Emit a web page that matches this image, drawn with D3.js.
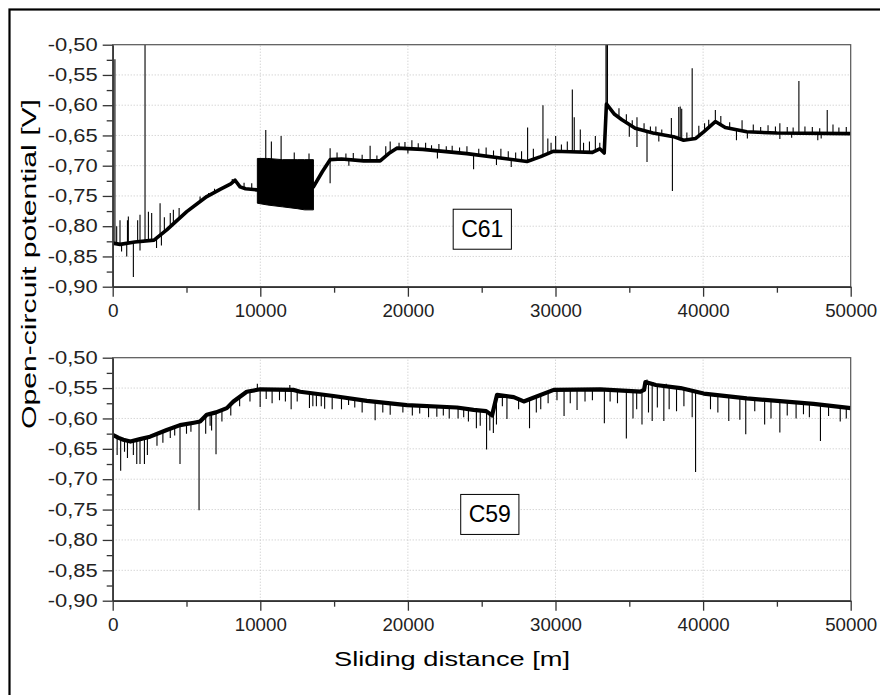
<!DOCTYPE html>
<html><head><meta charset="utf-8">
<script src="https://cdn.jsdelivr.net/npm/d3@7"></script>
<style>
html,body{margin:0;padding:0;background:#fff;}
svg{display:block;font-family:"Liberation Sans",Arial,sans-serif;}
</style></head>
<body><svg id="chart" width="880" height="695"></svg>
<script>
// ---------- data ----------
const xTicks = [0, 10000, 20000, 30000, 40000, 50000];
const xTickLabels = ["0", "10000", "20000", "30000", "40000", "50000"];
const xMinorTicks = [5000, 15000, 25000, 35000, 45000];
const yTicks = [-0.90, -0.85, -0.80, -0.75, -0.70, -0.65, -0.60, -0.55, -0.50];
const yTickLabels = ["-0,90", "-0,85", "-0,80", "-0,75", "-0,70", "-0,65", "-0,60", "-0,55", "-0,50"];
const yMinorTicks = [-0.875, -0.825, -0.775, -0.725, -0.675, -0.625, -0.575, -0.525];
const gridX = [10000, 20000, 30000, 40000];
const gridY = [-0.85, -0.80, -0.75, -0.70, -0.65, -0.60, -0.55];

// C61 (upper panel): smoothed base trace
const c61X = [0, 500, 1500, 2800, 3660, 5017, 6373, 7275, 8000, 8290, 8630, 9000, 9763, 9800,
  13600, 14200, 14730, 15500, 17000, 18120, 18700, 19250, 21000, 24000, 28070, 29000, 29880, 31000,
  32500, 33000, 33300, 33450, 34000, 34500, 35400, 36600, 38000, 38680, 39500, 40040, 40830, 41500,
  42960, 45000, 50000];
const c61V = [-0.828, -0.830, -0.826, -0.823, -0.806, -0.776, -0.751, -0.739, -0.730, -0.724, -0.735, -0.738, -0.740, -0.740,
  -0.735, -0.710, -0.690, -0.689, -0.692, -0.692, -0.680, -0.671, -0.673, -0.680, -0.693, -0.685, -0.676, -0.677,
  -0.678, -0.672, -0.679, -0.598, -0.615, -0.624, -0.638, -0.646, -0.652, -0.658, -0.655, -0.644, -0.627, -0.637,
  -0.644, -0.646, -0.647];
// C61 dense oscillation block
const c61BlockX = [9800, 10500, 11500, 12500, 13000, 13600];
const c61BlockHi = [-0.688, -0.688, -0.690, -0.690, -0.690, -0.690];
const c61BlockLo = [-0.762, -0.765, -0.768, -0.771, -0.773, -0.773];
// C61 spikes: distance, tip value
const c61SpikeX = [150, 2190, 1400, 270, 495, 1000, 1060, 1690, 1850, 2420, 2640, 3210, 3500, 3900, 4110, 4500,
  5920, 6500, 6900, 7730, 8100, 8900, 9420, 950, 600, 1850, 2970, 3300,
  10370, 11410, 10750, 12300, 13300, 14730, 14730,
  15200, 15800, 16300, 16900, 17440, 17900, 18500, 18800, 19400, 19800, 20270, 20700, 21200, 21600, 22100, 22600,
  23000, 23500, 24000, 24450, 24800, 25300, 25800, 26300, 26800, 27300, 27700, 28110, 28500, 29150, 29480, 29700,
  30010, 30400, 30800, 31140, 31270, 31680, 31900, 32300, 32700, 33000, 16000, 20000, 22000, 26000, 27000,
  33420, 33490, 33520, 34300, 34800, 35200, 35520, 35520, 36000, 36200, 36430, 36800, 37200, 37850, 37920,
  38350, 38450, 38550, 38900, 39260, 39710, 40100, 40380, 40830, 41200, 41800, 42260, 42640, 43400, 43900,
  44400, 44900, 45200, 45200, 45700, 46100, 46490, 46900, 47400, 47770, 47900, 48410, 48800, 49200, 49700,
  35000, 37000, 43000, 46000, 48000];
const c61SpikeV = [-0.524, -0.500, -0.884, -0.800, -0.790, -0.790, -0.784, -0.790, -0.781, -0.776, -0.778, -0.762, -0.785, -0.778, -0.773, -0.770,
  -0.751, -0.745, -0.738, -0.732, -0.722, -0.728, -0.729, -0.850, -0.842, -0.840, -0.836, -0.832,
  -0.641, -0.651, -0.660, -0.678, -0.680, -0.671, -0.729,
  -0.678, -0.680, -0.679, -0.682, -0.667, -0.683, -0.668, -0.660, -0.662, -0.661, -0.658, -0.663, -0.662, -0.666, -0.664, -0.668,
  -0.667, -0.670, -0.668, -0.706, -0.672, -0.670, -0.675, -0.672, -0.676, -0.678, -0.676, -0.637, -0.672, -0.600, -0.655, -0.662,
  -0.651, -0.665, -0.660, -0.574, -0.620, -0.640, -0.662, -0.660, -0.651, -0.662, -0.700, -0.680, -0.688, -0.699, -0.702,
  -0.500, -0.500, -0.500, -0.605, -0.615, -0.625, -0.620, -0.669, -0.630, -0.694, -0.635, -0.635, -0.640, -0.621, -0.742,
  -0.603, -0.602, -0.606, -0.645, -0.539, -0.634, -0.630, -0.624, -0.608, -0.618, -0.628, -0.658, -0.625, -0.632, -0.636,
  -0.633, -0.635, -0.630, -0.656, -0.636, -0.637, -0.560, -0.635, -0.636, -0.658, -0.638, -0.608, -0.632, -0.637, -0.636,
  -0.652, -0.660, -0.655, -0.654, -0.655];

// C59 (lower panel): smoothed base trace
const c59X = [0, 400, 720, 1200, 1850, 2530, 3660, 4560, 5500, 5920, 6370, 7000, 7730, 8180, 9080, 9990,
  12240, 12700, 14960, 17220, 19930, 23320, 24450, 25300, 25700, 26040, 27170, 27850, 28500, 29880, 33040,
  35750, 36000, 36090, 36800, 38470, 40040, 42960, 47480, 50000];
const c59V = [-0.627, -0.632, -0.635, -0.638, -0.634, -0.630, -0.619, -0.611, -0.607, -0.605, -0.594, -0.590, -0.583, -0.572, -0.556, -0.552,
  -0.553, -0.556, -0.563, -0.571, -0.578, -0.582, -0.586, -0.588, -0.595, -0.561, -0.565, -0.572, -0.566, -0.553, -0.552,
  -0.556, -0.553, -0.540, -0.545, -0.550, -0.559, -0.567, -0.576, -0.583];
// C59 spikes: distance, tip value
const c59SpikeX = [300, 540, 800, 1000, 1400, 1630, 1850, 2150, 2350, 3000, 3400, 3900, 4200, 4560, 5000, 5300,
  5850, 6300, 6600, 6700, 7000, 7400, 8000, 8600, 9300, 9990, 10400, 10800, 11300, 11700, 12090, 12500,
  13330, 13560, 13800, 14130, 14360, 14870, 15500, 15980, 16400, 16900, 17780, 18300, 18800, 19660, 20300,
  20800, 21400, 21960, 22400, 22800, 23400, 23780, 24100, 24640, 24900, 25330, 25550, 25790, 26000, 26400,
  26710, 27500, 28240, 28700, 29000, 29500, 30100, 30580, 31000, 31460, 32000, 32500, 33310, 33700, 34200,
  34800, 35250, 35500, 35860, 36300, 36550, 36900, 37340, 37700, 38200, 38700, 39260, 39490, 40500, 41000,
  41740, 42490, 42890, 43500, 44170, 44600, 45200, 45700, 46300, 46800, 47200, 47950, 48500, 49290, 49700,
  9800, 12000, 36200, 36600, 37500];
const c59SpikeV = [-0.660, -0.686, -0.655, -0.665, -0.660, -0.675, -0.675, -0.675, -0.660, -0.645, -0.640, -0.632, -0.628, -0.675, -0.625, -0.622,
  -0.751, -0.625, -0.612, -0.620, -0.659, -0.605, -0.595, -0.580, -0.572, -0.581, -0.568, -0.575, -0.570, -0.572, -0.585, -0.572,
  -0.583, -0.580, -0.580, -0.580, -0.584, -0.585, -0.585, -0.578, -0.582, -0.590, -0.603, -0.590, -0.594, -0.590, -0.595,
  -0.592, -0.598, -0.597, -0.595, -0.600, -0.600, -0.598, -0.605, -0.616, -0.612, -0.651, -0.620, -0.624, -0.610, -0.580,
  -0.601, -0.585, -0.616, -0.590, -0.585, -0.575, -0.570, -0.596, -0.575, -0.586, -0.572, -0.570, -0.608, -0.572, -0.575,
  -0.633, -0.600, -0.585, -0.610, -0.590, -0.604, -0.582, -0.604, -0.585, -0.588, -0.580, -0.598, -0.688, -0.585, -0.590,
  -0.604, -0.602, -0.626, -0.588, -0.610, -0.600, -0.623, -0.595, -0.600, -0.593, -0.598, -0.637, -0.596, -0.605, -0.600,
  -0.543, -0.545, -0.536, -0.540, -0.543];

const labelTexts = ["C61", "C59"];
const labelPosX = [25040, 25550];
const labelPosV = [-0.805, -0.758];

// ---------- drawing ----------
const svg = d3.select("#chart");
const x = d3.scaleLinear().domain([0, 50000]).range([112.7, 850.7]);

// outer frame
svg.append("rect").attr("x", 9.5).attr("y", 9.5).attr("width", 900).attr("height", 700)
  .attr("fill", "none").attr("stroke", "#000").attr("stroke-width", 2.2);

const panels = [
  {id: "top", range: [286.7, 44.7], bx: c61X, bv: c61V, sx: c61SpikeX, sv: c61SpikeV, block: true, lw: 3.6},
  {id: "bot", range: [600.7, 357.7], bx: c59X, bv: c59V, sx: c59SpikeX, sv: c59SpikeV, block: false, lw: 4.2}
];

panels.forEach((p, pi) => {
  const y = d3.scaleLinear().domain([-0.90, -0.50]).range(p.range);
  const g = svg.append("g");
  const clipId = "clip-" + p.id;
  svg.append("clipPath").attr("id", clipId).append("rect")
    .attr("x", x.range()[0]).attr("y", y.range()[1])
    .attr("width", x.range()[1] - x.range()[0]).attr("height", y.range()[0] - y.range()[1]);

  // grid
  g.selectAll(".gx").data(gridX).join("line")
    .attr("x1", d => x(d)).attr("x2", d => x(d)).attr("y1", y.range()[0]).attr("y2", y.range()[1])
    .attr("stroke", "#c4c4c4").attr("stroke-width", 1).attr("stroke-dasharray", "1,2");
  g.selectAll(".gy").data(gridY).join("line")
    .attr("y1", d => y(d)).attr("y2", d => y(d)).attr("x1", x.range()[0]).attr("x2", x.range()[1])
    .attr("stroke", "#c4c4c4").attr("stroke-width", 1).attr("stroke-dasharray", "1,2");

  // sample label box
  const lt = g.append("text").attr("x", x(labelPosX[pi])).attr("y", y(labelPosV[pi]))
    .attr("text-anchor", "middle").attr("dominant-baseline", "central")
    .attr("font-size", 23).attr("fill", "#000").text(labelTexts[pi]);
  const bb = lt.node().getBBox();
  g.append("rect")
    .attr("x", bb.x - 8).attr("y", y(labelPosV[pi]) - 20)
    .attr("width", bb.width + 16).attr("height", 40)
    .attr("fill", "#fff").attr("stroke", "#000").attr("stroke-width", 1);
  lt.raise();

  const plot = g.append("g").attr("clip-path", `url(#${clipId})`);
  const base = d3.scaleLinear().domain(p.bx).range(p.bv);

  // spikes
  plot.selectAll(".sp").data(p.sx.map((d, i) => [d, p.sv[i]])).join("line")
    .attr("x1", d => x(d[0])).attr("x2", d => x(d[0]))
    .attr("y1", d => y(base(d[0]))).attr("y2", d => y(d[1]))
    .attr("stroke", "#000").attr("stroke-width", 1.1);

  if (p.block) {
    const area = d3.area().x(d => x(d[0])).y0(d => y(d[2])).y1(d => y(d[1]));
    plot.append("path").datum(c61BlockX.map((d, i) => [d, c61BlockHi[i], c61BlockLo[i]]))
      .attr("d", area).attr("fill", "#000").attr("stroke", "#000").attr("stroke-width", 1);
  }

  const line = d3.line().x(d => x(d[0])).y(d => y(d[1]));
  plot.append("path").datum(p.bx.map((d, i) => [d, p.bv[i]]))
    .attr("d", line).attr("fill", "none").attr("stroke", "#000")
    .attr("stroke-width", p.lw).attr("stroke-linejoin", "round");

  // frame (top, right)
  g.append("rect").attr("x", x.range()[0]).attr("y", y.range()[1])
    .attr("width", x.range()[1] - x.range()[0]).attr("height", y.range()[0] - y.range()[1])
    .attr("fill", "none").attr("stroke", "#555").attr("stroke-width", 1.2);

  // axes
  const xa = g.append("g").attr("transform", `translate(0,${y.range()[0]})`)
    .call(d3.axisBottom(x).tickValues(xTicks).tickSize(10).tickSizeOuter(0).tickPadding(7)
      .tickFormat((d, i) => xTickLabels[i]));
  g.append("g").attr("transform", `translate(0,${y.range()[0]})`)
    .call(d3.axisBottom(x).tickValues(xMinorTicks).tickSize(6).tickSizeOuter(0).tickFormat(""))
    .call(s => s.select(".domain").remove());
  const ya = g.append("g").attr("transform", `translate(${x.range()[0]},0)`)
    .call(d3.axisLeft(y).tickValues(yTicks).tickSize(10).tickSizeOuter(0).tickPadding(5)
      .tickFormat((d, i) => yTickLabels[i]));
  g.append("g").attr("transform", `translate(${x.range()[0]},0)`)
    .call(d3.axisLeft(y).tickValues(yMinorTicks).tickSize(6).tickSizeOuter(0).tickFormat(""))
    .call(s => s.select(".domain").remove());

  g.selectAll(".domain").attr("stroke", "#333").attr("stroke-width", 1.5);
  g.selectAll(".tick line").attr("stroke", "#333").attr("stroke-width", 1.3);
  xa.selectAll("text").attr("font-size", 19).attr("fill", "#222")
    .attr("font-family", "'Liberation Sans',Arial,sans-serif")
    .each(function(d, i) { if (xTickLabels[i].length > 1) d3.select(this).attr("textLength", 52).attr("lengthAdjust", "spacingAndGlyphs"); });
  ya.selectAll("text").attr("font-size", 18).attr("fill", "#222")
    .attr("font-family", "'Liberation Sans',Arial,sans-serif")
    .attr("textLength", 50).attr("lengthAdjust", "spacingAndGlyphs");
});

// axis titles
svg.append("text").attr("x", 452).attr("y", 666).attr("text-anchor", "middle")
  .attr("font-size", 21).attr("fill", "#000").attr("textLength", 236).attr("lengthAdjust", "spacingAndGlyphs")
  .text("Sliding distance [m]");
svg.append("text").attr("transform", "translate(36,264) rotate(-90)").attr("text-anchor", "middle")
  .attr("font-size", 21).attr("fill", "#000").attr("textLength", 330).attr("lengthAdjust", "spacingAndGlyphs")
  .text("Open-circuit potential [V]");
</script></body></html>
